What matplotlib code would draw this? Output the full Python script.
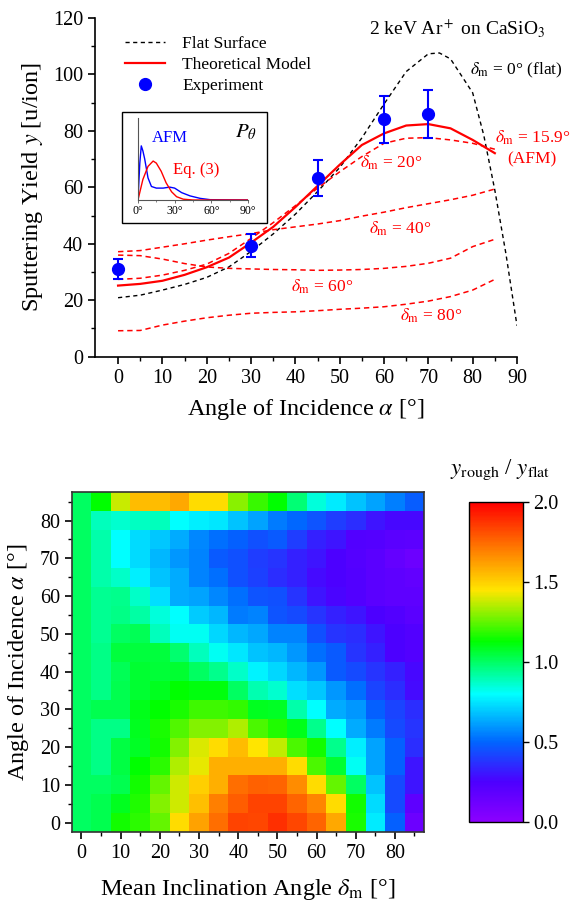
import matplotlib
matplotlib.use('Agg')
import matplotlib.pyplot as plt
import numpy as np
from matplotlib.colors import LinearSegmentedColormap
from matplotlib.patches import Rectangle

plt.rcParams['font.family'] = ['Liberation Serif', 'DejaVu Serif']
plt.rcParams['mathtext.fontset'] = 'stix'

# ---------------- top panel: sputtering yield vs angle ----------------
alpha = [0, 5, 10, 15, 20, 25, 30, 35, 40, 45, 50, 55, 60, 65, 70, 75, 80, 85]

flat_alpha = [0, 5, 10, 15, 20, 25, 30, 35, 40, 45, 50, 55, 60, 65, 70, 72.5,
              75, 80, 82.5, 85, 87.5, 90]
flat_yield = [20.9, 21.8, 23.6, 25.6, 28.1, 31.8, 37.3, 43.5, 50.5, 58.5, 67.0,
              77.5, 89.5, 101.0, 107.3, 107.6, 105.5, 93.5, 78.5, 59.0, 36.5, 11.0]

model_yield = [25.2, 25.8, 26.9, 29.0, 31.7, 35.1, 40.4, 46.0, 53.0, 60.5, 68.0,
               75.0, 79.1, 81.9, 82.4, 80.9, 76.8, 72.1]

dm20_yield = [27.4, 27.8, 28.9, 30.6, 32.8, 36.6, 41.9, 47.5, 53.5, 59.7, 65.5,
              70.9, 75.6, 77.4, 77.6, 76.8, 75.6, 73.5]
dm40_yield = [37.2, 37.6, 38.8, 40.0, 41.3, 42.5, 43.6, 45.0, 46.0, 47.0, 48.2,
              49.8, 51.2, 52.8, 54.2, 55.6, 57.2, 59.4]
dm60_yield = [36.0, 35.8, 34.6, 33.0, 31.8, 31.3, 31.1, 30.9, 30.8, 30.6, 30.7,
              30.9, 31.3, 32.0, 33.1, 34.9, 39.0, 41.6]
dm80_yield = [9.2, 9.3, 11.2, 12.6, 13.8, 14.7, 15.4, 15.7, 15.9, 16.3, 16.8,
              17.2, 17.7, 18.6, 19.7, 21.3, 23.6, 27.4]

exp_alpha = [0, 30, 45, 60, 70]
exp_yield = [31.1, 39.3, 63.2, 84.1, 86.1]
exp_err = [3.4, 4.0, 6.4, 8.4, 8.5]

# inset: inclination angle distributions
afm_theta = [0, 1.5, 2.7, 4, 5.5, 8.2, 11, 15, 20.6, 26, 30, 35.7, 42.6, 50.8, 59, 90]
afm_p = [0, 0.45, 0.66, 0.6, 0.5, 0.27, 0.165, 0.145, 0.145, 0.157, 0.145, 0.09,
         0.05, 0.02, 0.004, 0]
eq3_theta = [0, 4, 8.2, 12.4, 15, 19, 23, 27.5, 31.6, 37, 45, 90]
eq3_p = [0, 0.25, 0.41, 0.475, 0.45, 0.35, 0.21, 0.1, 0.04, 0.01, 0, 0]

# ---------------- bottom panel: y_rough / y_flat map ----------------
delta_m = [0, 5, 10, 15, 20, 25, 30, 35, 40, 45, 50, 55, 60, 65, 70, 75, 80, 85]
alpha_map = [0, 5, 10, 15, 20, 25, 30, 35, 40, 45, 50, 55, 60, 65, 70, 75, 80, 85]
# one row per angle of incidence (0..85), columns follow delta_m
ratio = [
    [1.0, 1.03, 1.15, 1.18, 1.25, 1.47, 1.61, 1.74, 1.84, 1.83, 1.89, 1.83, 1.76, 1.60, 1.16, 0.76, 0.49, 0.13],
    [1.0, 1.03, 1.09, 1.17, 1.29, 1.39, 1.54, 1.70, 1.78, 1.84, 1.84, 1.76, 1.68, 1.47, 1.15, 0.73, 0.43, 0.18],
    [1.0, 1.00, 1.03, 1.15, 1.25, 1.39, 1.50, 1.58, 1.74, 1.77, 1.76, 1.67, 1.47, 1.25, 1.00, 0.68, 0.43, 0.30],
    [1.0, 0.96, 1.04, 1.13, 1.18, 1.35, 1.42, 1.58, 1.58, 1.58, 1.58, 1.47, 1.22, 1.07, 0.82, 0.62, 0.49, 0.30],
    [1.0, 0.96, 1.04, 1.08, 1.15, 1.29, 1.40, 1.47, 1.55, 1.45, 1.37, 1.22, 1.15, 0.95, 0.77, 0.62, 0.49, 0.36],
    [1.0, 0.96, 0.96, 1.09, 1.16, 1.23, 1.29, 1.29, 1.35, 1.22, 1.17, 1.10, 0.95, 0.80, 0.64, 0.54, 0.43, 0.38],
    [1.0, 1.03, 1.03, 1.10, 1.13, 1.16, 1.21, 1.21, 1.19, 1.09, 1.08, 0.91, 0.80, 0.64, 0.60, 0.49, 0.42, 0.36],
    [1.0, 0.96, 1.03, 1.07, 1.09, 1.13, 1.11, 1.11, 1.00, 0.90, 0.86, 0.74, 0.69, 0.60, 0.52, 0.42, 0.36, 0.28],
    [1.0, 0.96, 1.02, 1.07, 1.06, 1.07, 1.00, 0.95, 0.87, 0.78, 0.72, 0.66, 0.60, 0.47, 0.43, 0.38, 0.33, 0.27],
    [1.0, 0.96, 1.05, 1.05, 1.05, 0.99, 0.89, 0.82, 0.75, 0.68, 0.66, 0.60, 0.52, 0.47, 0.38, 0.33, 0.25, 0.23],
    [1.0, 0.94, 1.00, 1.02, 0.89, 0.82, 0.82, 0.72, 0.66, 0.63, 0.56, 0.56, 0.45, 0.38, 0.36, 0.30, 0.25, 0.23],
    [1.0, 0.94, 0.96, 0.92, 0.85, 0.80, 0.70, 0.66, 0.54, 0.56, 0.46, 0.43, 0.38, 0.33, 0.30, 0.25, 0.23, 0.20],
    [1.0, 0.94, 0.95, 0.87, 0.74, 0.64, 0.62, 0.57, 0.52, 0.46, 0.45, 0.38, 0.30, 0.26, 0.23, 0.20, 0.18, 0.18],
    [1.0, 0.91, 0.87, 0.77, 0.68, 0.64, 0.56, 0.52, 0.45, 0.41, 0.36, 0.33, 0.28, 0.25, 0.23, 0.20, 0.18, 0.17],
    [1.0, 0.91, 0.80, 0.73, 0.66, 0.60, 0.56, 0.47, 0.45, 0.40, 0.38, 0.33, 0.30, 0.25, 0.22, 0.20, 0.16, 0.13],
    [1.0, 0.91, 0.80, 0.73, 0.69, 0.64, 0.57, 0.52, 0.49, 0.45, 0.47, 0.40, 0.33, 0.30, 0.23, 0.22, 0.20, 0.19],
    [1.0, 0.89, 0.86, 0.88, 0.89, 0.80, 0.77, 0.75, 0.68, 0.62, 0.54, 0.50, 0.46, 0.40, 0.36, 0.30, 0.27, 0.27],
    [1.0, 1.13, 1.38, 1.55, 1.55, 1.60, 1.47, 1.47, 1.30, 1.20, 1.13, 0.98, 0.85, 0.76, 0.68, 0.62, 0.55, 0.48],
]

# rainbow palette, violet (0) -> red (2)
rainbow = LinearSegmentedColormap.from_list('origin_rainbow', [
    (0.0, (0.55, 0.0, 1.0)),
    (0.125, (0.30, 0.0, 1.0)),
    (0.25, (0.0, 0.4, 1.0)),
    (0.40, (0.0, 1.0, 1.0)),
    (0.565, (0.0, 1.0, 0.0)),
    (0.725, (1.0, 0.9, 0.0)),
    (0.85, (1.0, 0.5, 0.0)),
    (1.0, (1.0, 0.0, 0.0)),
])

fig = plt.figure(figsize=(5.79, 9.07), dpi=100)

# ---- top panel ----
ax = fig.add_axes([0.1641, 0.6067, 0.7288, 0.3735])
ax.plot(flat_alpha, flat_yield, color='black', lw=1.0, ls=(0, (3, 2.5)),
        label='Flat Surface')
for ys in (dm20_yield, dm40_yield, dm60_yield, dm80_yield):
    ax.plot(alpha, ys, color='red', lw=1.1, ls=(0, (3.5, 2.5)))
ax.plot(alpha, model_yield, color='red', lw=1.6, label='Theoretical Model')
ax.errorbar(exp_alpha, exp_yield, yerr=exp_err, fmt='none', ecolor='blue',
            elinewidth=1.5, capsize=3.5, capthick=1.5, zorder=4)
ax.plot(exp_alpha, exp_yield, 'o', color='blue', ms=8.5, ls='none',
        label='Experiment', zorder=5)

ax.set_xlim(-5.2, 90)
ax.set_ylim(0, 120)
ax.set_xticks(range(0, 91, 10))
ax.set_xticks(range(5, 90, 10), minor=True)
ax.set_yticks(range(0, 121, 20))
ax.set_yticks(range(10, 120, 20), minor=True)
ax.spines['top'].set_visible(False)
ax.spines['right'].set_visible(False)
for s in ('left', 'bottom'):
    ax.spines[s].set_linewidth(1.2)
ax.tick_params(which='major', direction='out', length=5, width=1.2, labelsize=14.5)
ax.tick_params(which='minor', direction='out', length=3, width=1.0)
ax.set_xlabel(r'Angle of Incidence $\alpha$ [°]', fontsize=17.5, labelpad=7)
ax.set_ylabel(r'Sputtering Yield $y$ [u/ion]', fontsize=17.5, labelpad=6)

ax.legend(loc='upper left', bbox_to_anchor=(0.071, 0.948), frameon=False,
          fontsize=12.5, handlelength=2.3, handletextpad=1.0, labelspacing=0.28,
          borderpad=0, borderaxespad=0)

ax.text(76.5, 116.2, r'2 keV Ar$^+$ on CaSiO$_3$', fontsize=14,
        ha='center', va='center')
ax.text(79.5, 101.6, r'$\delta_\mathrm{m}$ = 0° (flat)', fontsize=12.5,
        ha='left', va='center')
ax.text(93.5, 77.5, r'$\delta_\mathrm{m}$ = 15.9°', fontsize=12.5, color='red',
        ha='center', va='center')
ax.text(93.3, 69.9, '(AFM)', fontsize=12.5, color='red', ha='center', va='center')
ax.text(61.7, 68.6, r'$\delta_\mathrm{m}$ = 20°', fontsize=12.5, color='red',
        ha='center', va='center')
ax.text(63.7, 45.2, r'$\delta_\mathrm{m}$ = 40°', fontsize=12.5, color='red',
        ha='center', va='center')
ax.text(46.0, 24.9, r'$\delta_\mathrm{m}$ = 60°', fontsize=12.5, color='red',
        ha='center', va='center')
ax.text(70.7, 14.4, r'$\delta_\mathrm{m}$ = 80°', fontsize=12.5, color='red',
        ha='center', va='center')

# inset frame
ax.add_patch(Rectangle((0.8, 47.4), 32.8, 39.4, facecolor='white',
                       edgecolor='black', lw=1.0, zorder=6))
axi = fig.add_axes([0.2383, 0.7795, 0.19, 0.0904])
axi.patch.set_alpha(0)
axi.plot(afm_theta, afm_p, color='blue', lw=1.0)
axi.plot(eq3_theta, eq3_p, color='red', lw=1.0)
axi.set_xlim(0, 90)
axi.set_ylim(0, 1)
axi.set_xticks([0, 30, 60, 90])
axi.set_xticklabels(['0°', '30°', '60°', '90°'])
axi.set_xticks([15, 45, 75], minor=True)
axi.set_yticks([])
for s in ('top', 'right'):
    axi.spines[s].set_visible(False)
for s in ('left', 'bottom'):
    axi.spines[s].set_color('#555555')
    axi.spines[s].set_linewidth(0.8)
axi.tick_params(which='major', direction='out', length=2.5, width=0.6,
                color='#555555', labelsize=8.5, pad=1)
axi.tick_params(which='minor', direction='out', length=1.5, width=0.5,
                color='#555555')
axi.text(0.13, 0.76, 'AFM', color='blue', fontsize=12, transform=axi.transAxes,
         ha='left', va='center')
axi.text(0.32, 0.37, 'Eq. (3)', color='red', fontsize=12, transform=axi.transAxes,
         ha='left', va='center')
axi.text(1.08, 0.82, r'$P_\theta$', fontsize=15, transform=axi.transAxes,
         ha='right', va='center')

# ---- bottom panel ----
axh = fig.add_axes([0.1238, 0.0827, 0.609, 0.3745])
edges_d = np.append(np.array(delta_m) - 2.5, delta_m[-1] + 2.5)
edges_a = np.append(np.array(alpha_map) - 2.5, alpha_map[-1] + 2.5)
mesh = axh.pcolormesh(edges_d, edges_a, np.array(ratio), cmap=rainbow,
                      vmin=0, vmax=2.0, shading='flat')
axh.set_xlim(-2.5, 87.5)
axh.set_ylim(-2.5, 87.5)
axh.set_xticks(range(0, 81, 10))
axh.set_xticks(range(5, 90, 10), minor=True)
axh.set_yticks(range(0, 81, 10))
axh.set_yticks(range(5, 90, 10), minor=True)
for s in axh.spines.values():
    s.set_linewidth(1.2)
    s.set_color('#333333')
axh.tick_params(which='major', direction='out', length=5, width=1.2, labelsize=14.5)
axh.tick_params(which='minor', direction='out', length=3, width=1.0)
axh.set_xlabel(r'Mean Inclination Angle $\delta_\mathrm{m}$ [°]', fontsize=17.5,
               labelpad=10)
axh.set_ylabel(r'Angle of Incidence $\alpha$ [°]', fontsize=17.5, labelpad=6)

cax = fig.add_axes([0.8106, 0.0937, 0.0922, 0.3528])
cb = fig.colorbar(mesh, cax=cax, ticks=[0, 0.5, 1.0, 1.5, 2.0])
cb.ax.set_yticklabels(['0.0', '0.5', '1.0', '1.5', '2.0'])
cb.outline.set_linewidth(1.0)
cb.ax.tick_params(direction='out', length=4, width=1.0, labelsize=14.5)
fig.text(0.864, 0.482, r'$y_\mathrm{rough}$ / $y_\mathrm{flat}$', fontsize=16.5,
         ha='center', va='center')

fig.savefig('out.png', dpi=100)
